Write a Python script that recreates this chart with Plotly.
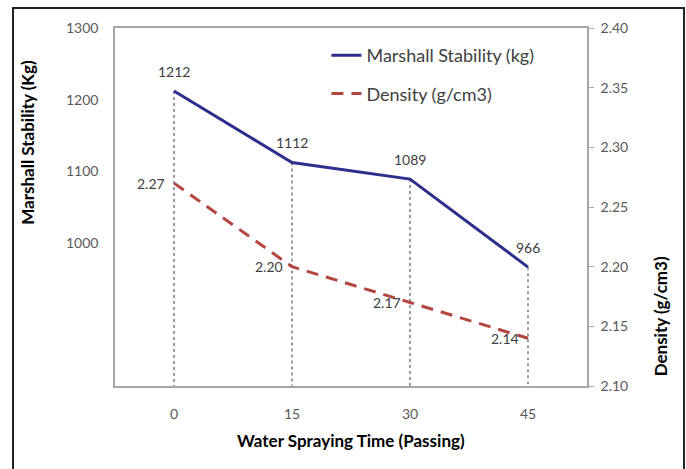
import plotly.graph_objects as go

categories = ["0", "15", "30", "45"]
stability = [1212, 1112, 1089, 966]
density = [2.27, 2.20, 2.17, 2.14]
left_ticks = [1000, 1100, 1200, 1300]
right_ticks = [2.10, 2.15, 2.20, 2.25, 2.30, 2.35, 2.40]

BLUE = "#2B2E8C"
RED = "#B5463F"
GRAY_AX = "#A6A6A6"
TXT = "#404040"
FONT = "Lato"
Y_MIN = 800

fig = go.Figure()

# dotted drop lines from each stability point to the x axis
for c, v in zip(categories, stability):
    fig.add_trace(go.Scatter(x=[c, c], y=[v, Y_MIN], mode="lines",
                             line=dict(color="#7F7F7F", width=1.5, dash="dot"),
                             showlegend=False, hoverinfo="skip"))

fig.add_trace(go.Scatter(x=categories, y=stability, mode="lines",
                         name="Marshall Stability (kg)",
                         line=dict(color=BLUE, width=3),
                         legendgroup="a"))
fig.add_trace(go.Scatter(x=categories, y=density, mode="lines",
                         name="Density (g/cm3)", yaxis="y2",
                         line=dict(color=RED, width=3, dash="12px,8px"),
                         legendgroup="b"))

annotations = []
for i, v in enumerate(stability):
    annotations.append(dict(x=i, y=v, xref="x", yref="y", text=str(v),
                            showarrow=False, yshift=20,
                            font=dict(family=FONT, size=14, color=TXT)))
for i, v in enumerate(density):
    annotations.append(dict(x=i, y=v, xref="x", yref="y2", text=f"{v:.2f}",
                            showarrow=False, xanchor="right", xshift=-7,
                            font=dict(family=FONT, size=14, color=TXT)))

annotations += [
    dict(text="<b>Marshall Stability (Kg)</b>", xref="paper", yref="paper",
         x=-0.186, y=0.68, xanchor="center", yanchor="middle",
         textangle=-90, showarrow=False,
         font=dict(family=FONT, size=17, color="black")),
    dict(text="<b>Density (g/cm3)</b>", xref="paper", yref="paper",
         x=1.155, y=0.195, xanchor="center", yanchor="middle",
         textangle=-90, showarrow=False,
         font=dict(family=FONT, size=17, color="black")),
    dict(text="<b>Water Spraying Time (Passing)</b>", xref="paper", yref="paper",
         x=0.5, y=-0.151, xanchor="center", yanchor="middle", showarrow=False,
         font=dict(family=FONT, size=17, color="black")),
]

fig.update_layout(
    width=686, height=469,
    margin=dict(l=115, r=99, t=28, b=83),
    paper_bgcolor="white", plot_bgcolor="white",
    font=dict(family=FONT, size=14, color=TXT),
    showlegend=True,
    legend=dict(x=0.448, y=0.975, xanchor="left", yanchor="top",
                bgcolor="rgba(0,0,0,0)", font=dict(family=FONT, size=18, color=TXT),
                traceorder="grouped", tracegroupgap=12),
    xaxis=dict(type="category", range=[-0.5, 3.5], showline=True, mirror=True,
               linecolor=GRAY_AX, linewidth=1.5, showgrid=False, ticks="",
               ticklabelstandoff=14, tickfont=dict(size=14, color="#595959")),
    yaxis=dict(range=[Y_MIN, 1300], tickvals=left_ticks, showline=True,
               linecolor=GRAY_AX, linewidth=1.5, showgrid=False, ticks="",
               zeroline=False, ticklabelstandoff=12,
               tickfont=dict(size=14, color="#595959")),
    yaxis2=dict(range=[2.10, 2.40], tickvals=right_ticks, tickformat=".2f",
                overlaying="y", side="right", showline=True,
                linecolor=GRAY_AX, linewidth=1.5, showgrid=False,
                ticks="outside", ticklen=5, tickcolor=GRAY_AX,
                zeroline=False, ticklabelstandoff=4,
                tickfont=dict(size=14, color="#595959")),
    annotations=annotations,
    shapes=[dict(type="rect", xref="paper", yref="paper",
                 x0=-0.2161, x1=1.2055, y0=-0.24, y1=1.0559,
                 line=dict(color="#222222", width=2))],
)

fig.write_html("out.html")
